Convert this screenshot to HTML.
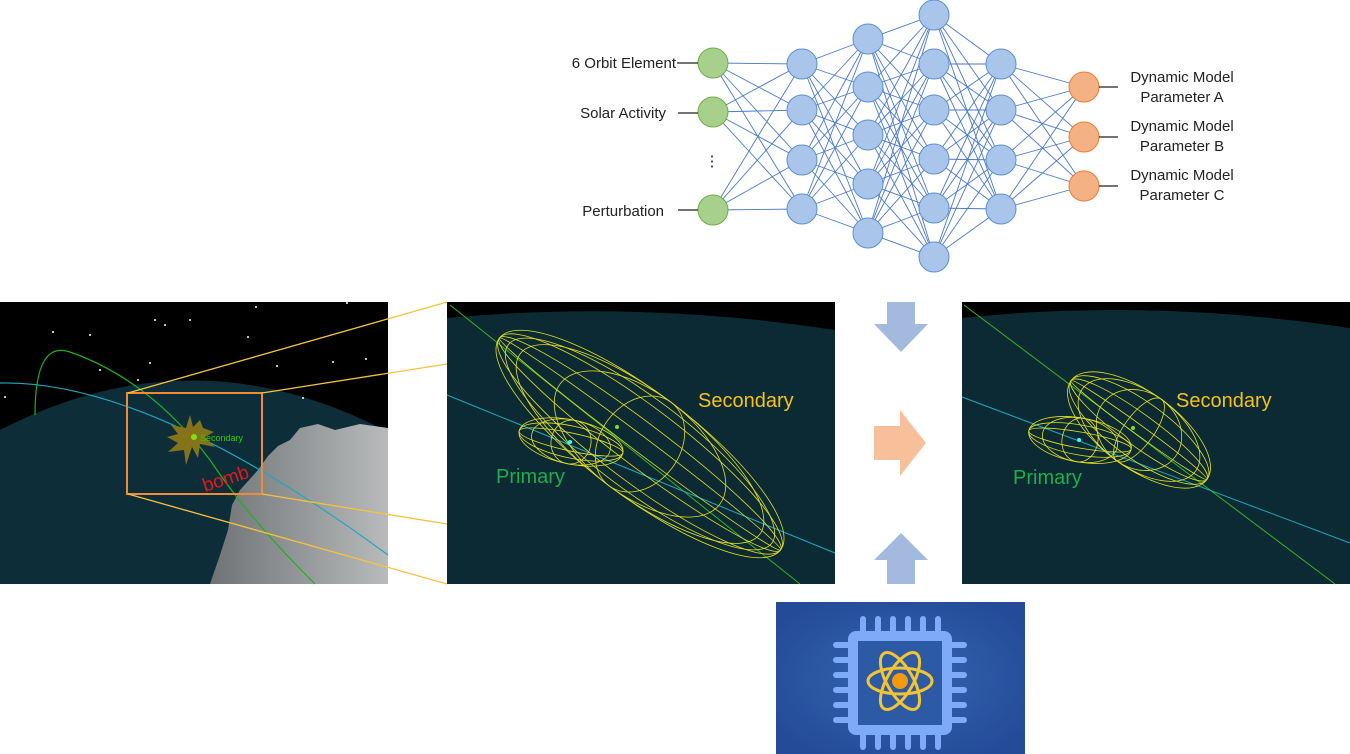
<!DOCTYPE html>
<html><head><meta charset="utf-8"><style>
html,body{margin:0;padding:0;background:#fff;width:1350px;height:754px;overflow:hidden;font-family:"Liberation Sans","Noto Sans CJK KR",sans-serif}
svg{position:absolute;left:0;top:0}
</style></head><body>
<svg id="s" width="1350" height="754" viewBox="0 0 1350 754" xmlns="http://www.w3.org/2000/svg">
<defs>
<radialGradient id="chipbg" cx="50%" cy="50%" r="60%"><stop offset="0" stop-color="#3566b0"/><stop offset="1" stop-color="#244b98"/></radialGradient>
<linearGradient id="land" x1="0" y1="0" x2="1" y2="0"><stop offset="0" stop-color="#6f7375"/><stop offset="1" stop-color="#b8babb"/></linearGradient>
</defs>
<g id="net"></g>
<g font-size="15" fill="#222">
<text x="676" y="68" text-anchor="end">6 Orbit Element</text>
<text x="666" y="118" text-anchor="end">Solar Activity</text>
<text x="712" y="166" text-anchor="middle">⋮</text>
<text x="664" y="216" text-anchor="end">Perturbation</text>
<text x="1182" y="82" text-anchor="middle">Dynamic Model</text>
<text x="1182" y="102" text-anchor="middle">Parameter A</text>
<text x="1182" y="131" text-anchor="middle">Dynamic Model</text>
<text x="1182" y="151" text-anchor="middle">Parameter B</text>
<text x="1182" y="180" text-anchor="middle">Dynamic Model</text>
<text x="1182" y="200" text-anchor="middle">Parameter C</text>
</g>
<g stroke="#222" stroke-width="1.2">
<line x1="677" y1="63" x2="698" y2="63"/><line x1="678" y1="113" x2="698" y2="113"/><line x1="678" y1="210" x2="698" y2="210"/>
<line x1="1099" y1="87" x2="1118" y2="87"/><line x1="1099" y1="137" x2="1118" y2="137"/><line x1="1099" y1="186" x2="1118" y2="186"/>
</g>

<!-- left panel -->
<rect x="0" y="302" width="388" height="282" fill="#000"/>
<path d="M0 430 Q194 330 388 432 L388 584 L0 584Z" fill="#0d2e38"/>
<path d="M388 428 L360 424 L335 430 L318 424 L300 428 L290 440 L278 446 L268 456 L258 470 L240 490 L232 505 L228 530 L220 555 L210 584 L388 584Z" fill="url(#land)"/>
<g fill="#fff"><circle cx="53" cy="332" r="1"/><circle cx="155" cy="320" r="1"/><circle cx="165" cy="325" r="1"/><circle cx="190" cy="320" r="1"/><circle cx="100" cy="370" r="1"/><circle cx="138" cy="380" r="1"/><circle cx="248" cy="337" r="1"/><circle cx="256" cy="307" r="1"/><circle cx="277" cy="366" r="1"/><circle cx="347" cy="303" r="1"/><circle cx="5" cy="397" r="1"/><circle cx="303" cy="398" r="1"/><circle cx="333" cy="362" r="1"/><circle cx="366" cy="359" r="1"/><circle cx="150" cy="363" r="1"/><circle cx="90" cy="335" r="1"/></g>
<path d="M35 415 Q35 340 70 352 Q150 380 210 460 Q250 520 315 584" fill="none" stroke="#1fb01f" stroke-width="1.2"/>
<path d="M0 383 Q150 380 388 555" fill="none" stroke="#1fa8bf" stroke-width="1.2"/>
<polygon points="193,427 200,420 203,428 214,432 205,437 215,447 200,444 198,458 192,447 186,465 184,450 168,452 178,443 167,437 178,434 171,425 186,428 190,415" fill="#85731a"/>
<circle cx="194" cy="437" r="3" fill="#7fe01a"/>
<text x="200" y="441" font-size="9" fill="#33cc00">Secondary</text>
<text x="205" y="492" font-size="19" fill="#e8171b" transform="rotate(-18 205 492)">bomb</text>
<rect x="127" y="393" width="135" height="101" fill="none" stroke="#f08a36" stroke-width="2"/>
<g stroke="#f6c23a" stroke-width="1.3">
<line x1="128" y1="393" x2="447" y2="302"/><line x1="262" y1="393" x2="447" y2="364"/>
<line x1="262" y1="494" x2="447" y2="524"/><line x1="128" y1="494" x2="447" y2="584"/>
</g>

<!-- middle panel -->
<rect x="447" y="302" width="388" height="282" fill="#0b2a33"/>
<path d="M447 302 L835 302 L835 330 Q640 300 447 318Z" fill="#000"/>
<line x1="450" y1="305" x2="800" y2="584" stroke="#3bb21f" stroke-width="1"/>
<line x1="447" y1="395" x2="835" y2="553" stroke="#1fa8bf" stroke-width="1"/>
<g fill="none" stroke="#e6e021" stroke-width="0.8">
<g transform="rotate(37 640 444)">
<ellipse cx="640" cy="444" rx="176" ry="52"/><ellipse cx="640" cy="444" rx="176" ry="38"/><ellipse cx="640" cy="444" rx="176" ry="22"/><ellipse cx="640" cy="444" rx="176" ry="8"/>
<ellipse cx="640" cy="444" rx="150" ry="52"/><ellipse cx="640" cy="444" rx="100" ry="52"/><ellipse cx="640" cy="444" rx="40" ry="52"/>
<ellipse cx="640" cy="444" rx="165" ry="46"/>
</g>
<g transform="rotate(12 571 442)">
<ellipse cx="571" cy="442" rx="53" ry="22"/><ellipse cx="571" cy="442" rx="53" ry="16"/><ellipse cx="571" cy="442" rx="53" ry="9"/><ellipse cx="571" cy="442" rx="40" ry="22"/><ellipse cx="571" cy="442" rx="20" ry="22"/>
</g>
</g>
<circle cx="570" cy="442" r="2" fill="#3ff"/><circle cx="617" cy="427" r="2" fill="#7fe01a"/>
<text x="698" y="407" font-size="20" fill="#f6c21a">Secondary</text>
<text x="496" y="483" font-size="20" fill="#1fae4a">Primary</text>

<!-- right panel -->
<rect x="962" y="302" width="388" height="282" fill="#0b2a33"/>
<path d="M962 302 L1350 302 L1350 328 Q1150 298 962 318Z" fill="#000"/>
<line x1="964" y1="305" x2="1335" y2="584" stroke="#3bb21f" stroke-width="1"/>
<line x1="962" y1="397" x2="1350" y2="543" stroke="#1fa8bf" stroke-width="1"/>
<g fill="none" stroke="#e6e021" stroke-width="0.8">
<g transform="rotate(36 1139 430)">
<ellipse cx="1139" cy="430" rx="84" ry="38"/><ellipse cx="1139" cy="430" rx="84" ry="28"/><ellipse cx="1139" cy="430" rx="84" ry="16"/><ellipse cx="1139" cy="430" rx="84" ry="5"/>
<ellipse cx="1139" cy="430" rx="70" ry="38"/><ellipse cx="1139" cy="430" rx="45" ry="38"/><ellipse cx="1139" cy="430" rx="15" ry="38"/>
</g>
<g transform="rotate(10 1080 440)">
<ellipse cx="1080" cy="440" rx="52" ry="22"/><ellipse cx="1080" cy="440" rx="52" ry="15"/><ellipse cx="1080" cy="440" rx="52" ry="8"/><ellipse cx="1080" cy="440" rx="38" ry="22"/><ellipse cx="1080" cy="440" rx="18" ry="22"/>
</g>
</g>
<circle cx="1079" cy="440" r="2" fill="#3ff"/><circle cx="1133" cy="428" r="2" fill="#7fe01a"/>
<text x="1176" y="407" font-size="20" fill="#f6c21a">Secondary</text>
<text x="1013" y="484" font-size="20" fill="#1fae4a">Primary</text>

<!-- arrows -->
<polygon points="887,302 915,302 915,324 928,324 901,352 874,324 887,324" fill="#a4b9de"/>
<polygon points="874,426 900,426 900,410 926,443 900,476 900,460 874,460" fill="#f7bf9a"/>
<polygon points="901,533 928,560 915,560 915,584 887,584 887,560 874,560" fill="#a4b9de"/>

<!-- chip -->
<rect x="776" y="602" width="249" height="152" fill="url(#chipbg)"/>
<g fill="#7eaaf8">
<g id="pinsT"></g>
<rect x="848" y="631" width="104" height="104" rx="8"/>
</g>
<rect x="858" y="641" width="84" height="84" fill="#2d5aa5"/>
<g fill="none" stroke="#f4c531" stroke-width="3">
<ellipse cx="900" cy="681" rx="32" ry="13"/>
<ellipse cx="900" cy="681" rx="32" ry="13" transform="rotate(60 900 681)"/>
<ellipse cx="900" cy="681" rx="32" ry="13" transform="rotate(-60 900 681)"/>
</g>
<circle cx="900" cy="681" r="8" fill="#f39a0a"/>
</svg>
<script>
var NS="http://www.w3.org/2000/svg";
var L=[[713,[63,112,210]],[802,[64,110,160,209]],[868,[39,87,135,184,233]],[934,[15,64,110,159,208,257]],[1001,[64,110,160,209]],[1084,[87,137,186]]];
var g=document.getElementById('net');
function el(n,a){var e=document.createElementNS(NS,n);for(var k in a)e.setAttribute(k,a[k]);g.appendChild(e);return e;}
for(var i=0;i<L.length-1;i++){var A=L[i],B=L[i+1];var ay=A[1];
for(var a=0;a<ay.length;a++)for(var b=0;b<B[1].length;b++)el('line',{x1:A[0],y1:ay[a],x2:B[0],y2:B[1][b],stroke:'#4a78cf','stroke-width':0.9});}
for(var i=0;i<L.length;i++){var f='#a9c6ea',s='#5b8fd6';if(i==0){f='#a8d08d';s='#70ad47';}if(i==5){f='#f4b183';s='#ed7d31';}
L[i][1].forEach(function(y){el('circle',{cx:L[i][0],cy:y,r:15,fill:f,stroke:s,'stroke-width':1});});}
var p=document.getElementById('pinsT');
function r(x,y,w,h){var e=document.createElementNS(NS,'rect');e.setAttribute('x',x);e.setAttribute('y',y);e.setAttribute('width',w);e.setAttribute('height',h);e.setAttribute('rx',3);p.appendChild(e);}
for(var k=0;k<6;k++){var c=863+k*15;r(c-3,616,6,20);r(c-3,730,6,20);var yy=645+k*15;r(833,yy-3,20,6);r(947,yy-3,20,6);}
</script>
</body></html>
